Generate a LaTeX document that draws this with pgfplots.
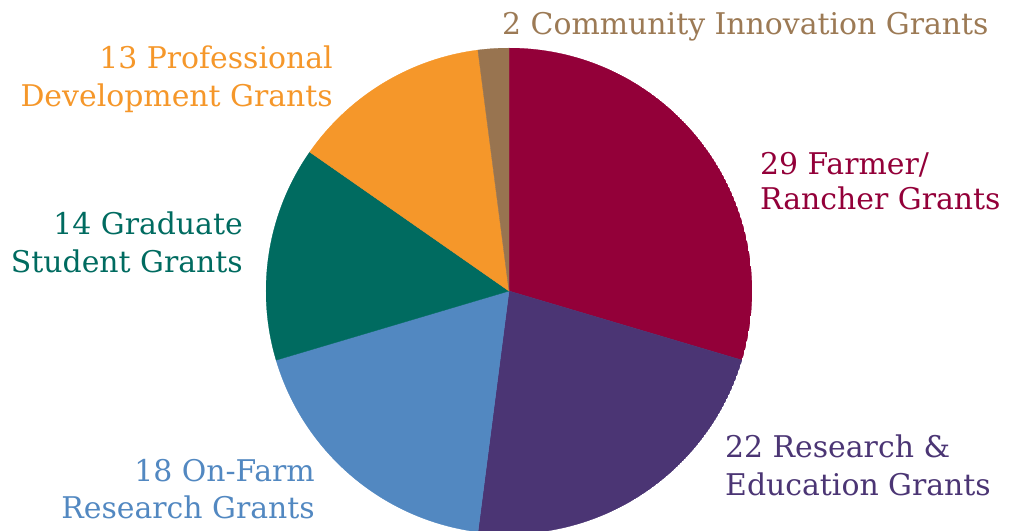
\documentclass[border=0pt]{standalone}
\usepackage{pgfplots}
\pgfplotsset{compat=1.18}
\usepgfplotslibrary{polar}
\usepackage{fontspec}
\setmainfont{DejaVu Serif}

\definecolor{farmer}{HTML}{930039}
\definecolor{research}{HTML}{4B3574}
\definecolor{onfarm}{HTML}{5288C1}
\definecolor{graduate}{HTML}{006B60}
\definecolor{professional}{HTML}{F5972A}
\definecolor{community}{HTML}{987450}
\definecolor{communitytext}{HTML}{9C7A55}

% grant counts, clockwise from the top
\def\total{98}
\def\cum{0}
\newcommand\slice[2]{%
    \pgfmathsetmacro\a{90-(\cum+#1)/\total*360}%
    \pgfmathsetmacro\b{90-\cum/\total*360}%
    \edef\tmp{\noexpand\addplot[fill=#2, draw=#2, line width=0.4pt, domain=\a:\b, samples=90] {1} -- (axis cs:0,0) -- cycle;}%
    \tmp
    \pgfmathsetmacro\cumnew{\cum+#1}\xdef\cum{\cumnew}%
}

\begin{document}
\begin{tikzpicture}
    \fontsize{30}{36}\selectfont

    \begin{polaraxis}[
        scale only axis,
        width     = 486bp,
        height    = 486bp,
        ymin      = 0,
        ymax      = 1,
        hide axis]

        \slice{29}{farmer}
        \slice{22}{research}
        \slice{18}{onfarm}
        \slice{14}{graduate}
        \slice{13}{professional}
        \slice{2}{community}

        \coordinate (O) at (axis cs:0,0);
    \end{polaraxis}

    \node[anchor=base west, text=communitytext, inner sep=0pt] at ([shift={(-7bp,256bp)}]O) {2 Community Innovation Grants};

    \node[anchor=base east, text=professional, inner sep=0pt] at ([shift={(-176bp,222bp)}]O) {13 Professional};
    \node[anchor=base east, text=professional, inner sep=0pt] at ([shift={(-176bp,184bp)}]O) {Development Grants};

    \node[anchor=base east, text=graduate, inner sep=0pt] at ([shift={(-266bp,56bp)}]O) {14 Graduate};
    \node[anchor=base east, text=graduate, inner sep=0pt] at ([shift={(-266bp,18bp)}]O) {Student Grants};

    \node[anchor=base west, text=farmer, inner sep=0pt] at ([shift={(251bp,116bp)}]O) {29 Farmer/};
    \node[anchor=base west, text=farmer, inner sep=0pt] at ([shift={(251bp,81bp)}]O) {Rancher Grants};

    \node[anchor=base west, text=research, inner sep=0pt] at ([shift={(216bp,-167bp)}]O) {22 Research \&};
    \node[anchor=base west, text=research, inner sep=0pt] at ([shift={(216bp,-204bp)}]O) {Education Grants};

    \node[anchor=base east, text=onfarm, inner sep=0pt] at ([shift={(-194bp,-191bp)}]O) {18 On-Farm};
    \node[anchor=base east, text=onfarm, inner sep=0pt] at ([shift={(-194bp,-227bp)}]O) {Research Grants};

    \pgfresetboundingbox
    \path[use as bounding box] ([shift={(-509bp,-240bp)}]O) rectangle ([shift={(504bp,291bp)}]O);
\end{tikzpicture}
\end{document}
